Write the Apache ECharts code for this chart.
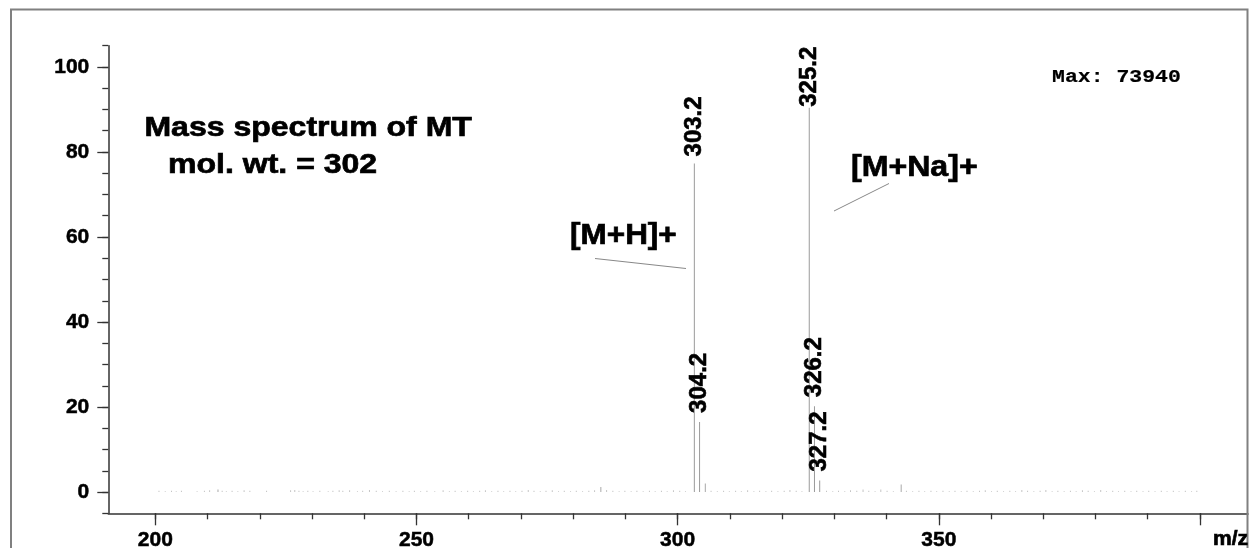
<!DOCTYPE html>
<html><head><meta charset="utf-8">
<script src="https://cdn.jsdelivr.net/npm/echarts@6/dist/echarts.min.js"></script>
<style>html,body{margin:0;padding:0;background:#fff}#c{width:1249px;height:548px}</style>
</head><body><div id="c"></div>
<script>
// ---- data ----
const xMinorTicks = [200,210,220,230,240,250,260,270,280,290,300,310,320,330,340,350,360,370,380,390,400];
const xMajorTicks = [200,250,300,350,400];
const xTickLabels = [200,250,300,350];
const yMajorTicks = [0,20,40,60,80,100];
const yTickLabels = [0,20,40,60,80,100];

// labelled peaks (m/z, relative intensity)
const peakMz  = [303.2, 304.2, 325.2, 326.2, 327.2];
const peakInt = [77.3, 16.5, 90.4, 20.2, 2.7];

// small unlabelled peaks
const minorMz  = [212.0, 285.3, 305.3, 342.8];
const minorInt = [0.6, 1.2, 2.0, 1.8];

// baseline noise [m/z, intensity]
const noisePeaks = [
 [200.7,0.3],[201.9,0.2],[203.1,0.3],[204.0,0.2],[205.0,0.3],[208.0,0.2],[209.4,0.3],[210.4,0.4],
 [212.8,0.3],[213.6,0.2],[214.7,0.3],[215.8,0.2],[217.0,0.4],[218.1,0.3],[221.3,0.3],[225.9,0.4],
 [226.7,0.5],[227.5,0.3],[228.3,0.2],[229.2,0.3],[230.2,0.2],[231.5,0.3],[233.1,0.2],[234.0,0.3],
 [235.2,0.4],[235.9,0.3],[237.2,0.4],[238.7,0.2],[239.7,0.3],[241.0,0.5],[242.3,0.3],[243.5,0.2],
 [244.8,0.3],[246.1,0.2],[247.4,0.3],[248.6,0.2],[249.6,0.3],[250.8,0.2],[252.0,0.3],[253.5,0.2],
 [255.1,0.4],[256.3,0.2],[257.4,0.3],[258.6,0.2],[259.8,0.3],[260.9,0.2],[262.1,0.3],[263.2,0.4],
 [264.4,0.2],[265.6,0.3],[266.7,0.2],[267.9,0.3],[269.0,0.2],[270.2,0.3],[271.4,0.5],[272.5,0.3],
 [273.7,0.2],[274.8,0.3],[276.0,0.4],[277.2,0.2],[278.3,0.3],[279.5,0.2],[280.6,0.3],[281.8,0.2],
 [283.0,0.3],[284.1,0.4],[286.4,0.5],[287.6,0.3],[288.8,0.2],[289.9,0.3],[291.1,0.2],[292.2,0.3],
 [293.4,0.2],[294.6,0.3],[295.7,0.2],[296.9,0.3],[298.0,0.2],[299.2,0.4],[300.4,0.3],[301.5,0.2],
 [306.4,0.3],[307.6,0.2],[308.8,0.3],[309.9,0.2],[311.1,0.3],[312.2,0.2],[313.4,0.4],[314.6,0.2],
 [315.7,0.3],[316.9,0.2],[318.0,0.3],[319.2,0.2],[320.4,0.3],[321.5,0.5],[322.7,0.3],[323.8,0.2],
 [328.5,0.3],[329.7,0.2],[330.8,0.3],[332.0,0.2],[333.1,0.4],[334.3,0.3],[335.5,0.6],[336.6,0.3],
 [337.8,0.2],[338.9,0.6],[340.1,0.3],[341.3,0.2],
 [343.8,0.3],[345.0,0.2],[346.2,0.3],[347.3,0.2],[348.5,0.3],[349.6,0.2],[350.8,0.3],[352.0,0.2],
 [353.1,0.3],[354.3,0.2],[355.4,0.3],[356.6,0.2],[357.8,0.3],[358.9,0.4],[360.1,0.2],[361.2,0.3],
 [362.4,0.2],[363.6,0.3],[364.7,0.2],[365.9,0.5],[367.0,0.3],[368.2,0.2],[369.4,0.3],[370.5,0.5],
 [371.7,0.2],[372.8,0.3],[374.0,0.2],[375.2,0.3],[376.3,0.2],[377.5,0.4],[378.6,0.3],[379.8,0.2],
 [381.0,0.5],[382.1,0.2],[383.3,0.3],[384.4,0.2],[385.6,0.3],[386.8,0.2],[387.9,0.3],[389.1,0.2],
 [390.2,0.3],[391.4,0.2],[392.6,0.3],[393.7,0.2],[394.9,0.3],[396.0,0.2],[397.2,0.3],[398.4,0.2],
 [399.4,0.3]
];

// ---- chart ----
const chart = echarts.init(document.getElementById('c'), null, {renderer:'canvas'});
const FONT = 'Liberation Sans, Arial, sans-serif';
const MONO = 'Liberation Mono, Courier New, monospace';
const labelGaps = [7, 9, 1, 9, 9];

const peakData = peakMz.map((m, i) => ({
  value: [m, peakInt[i]],
  label: {
    show: true, position: 'top', rotate: 90, align: 'left', verticalAlign: 'middle',
    distance: labelGaps[i],
    formatter: p => p.value[0].toFixed(1),
    fontFamily: FONT, fontWeight: 'bold', fontSize: 24, color: '#000',
    textBorderColor: '#000', textBorderWidth: 0.6
  }
}));
const minorData = minorMz.map((m, i) => [m, minorInt[i]]);

const axisCol = '#333';
const xBase = {type: 'value', min: 191, max: 409.2, position: 'bottom', splitLine: {show: false}};
const yBase = {type: 'value', min: -5, max: 105, position: 'left', splitLine: {show: false}};
const tickLabelStyle = {fontFamily: FONT, fontWeight: 'bold', fontSize: 21, color: '#000',
  textBorderColor: '#000', textBorderWidth: 0.5};

function txt(text, x, y, size, sx, family, lw) {
  return {type: 'text', z: 100, silent: true, x: x, y: y, scaleX: sx, scaleY: 1,
    style: {text: text, x: 0, y: 0, fontFamily: family || FONT, fontWeight: 'bold', fontSize: size,
      fill: '#000', stroke: '#000', lineWidth: lw == null ? 0.7 : lw, align: 'left', verticalAlign: 'middle'}};
}

chart.setOption({
  animation: false,
  backgroundColor: '#fff',
  grid: {left: 108.3, right: 1, top: 45.7, bottom: 34.7, containLabel: false, outerBoundsMode: 'none'},
  xAxis: [
    Object.assign({}, xBase, {
      axisLine: {show: true, onZero: false, lineStyle: {color: axisCol, width: 1.5}},
      axisTick: {show: true, length: 6, customValues: xMinorTicks, lineStyle: {color: axisCol, width: 1.3}},
      axisLabel: Object.assign({show: true, customValues: xTickLabels, margin: 16}, tickLabelStyle)
    }),
    Object.assign({}, xBase, {
      axisLine: {show: false, onZero: false},
      axisTick: {show: true, length: 12, customValues: xMajorTicks, lineStyle: {color: axisCol, width: 1.3}},
      axisLabel: {show: false}
    })
  ],
  yAxis: [
    Object.assign({}, yBase, {
      interval: 5,
      axisLine: {show: true, onZero: false, lineStyle: {color: axisCol, width: 1.5}},
      axisTick: {show: true, length: 6, lineStyle: {color: axisCol, width: 1.3}},
      axisLabel: Object.assign({show: true, customValues: yTickLabels, margin: 19}, tickLabelStyle)
    }),
    Object.assign({}, yBase, {
      axisLine: {show: false, onZero: false},
      axisTick: {show: true, length: 11, customValues: yMajorTicks, lineStyle: {color: axisCol, width: 1.3}},
      axisLabel: {show: false}
    })
  ],
  series: [
    {type: 'bar', name: 'noise', data: noisePeaks, barWidth: 1, barGap: '-100%',
     itemStyle: {color: '#c4c4c4'}, z: 2},
    {type: 'bar', name: 'minor', data: minorData, barWidth: 1, barGap: '-100%',
     itemStyle: {color: '#a8a8a8'}, z: 3},
    {type: 'bar', name: 'peaks', data: peakData, barWidth: 1, barGap: '-100%',
     itemStyle: {color: '#9a9a9a'}, z: 4}
  ],
  graphic: [
    {type: 'rect', z: 100, silent: true, shape: {x: 11, y: 9.5, width: 1236.5, height: 600},
     style: {fill: null, stroke: '#808080', lineWidth: 2}},
    txt('Mass spectrum of MT', 144.4, 128.5, 28, 1.144),
    txt('mol. wt. = 302', 168, 165.2, 28, 1.144),
    txt('Max: 73940', 1052, 76.8, 19, 1.13, MONO, 0.2),
    txt('[M+H]+', 570, 236, 30, 1.05),
    txt('[M+Na]+', 851, 167.7, 30, 1.07),
    txt('m/z', 1213, 539.5, 21, 1.0),
    {type: 'line', z: 100, silent: true, shape: {x1: 595, y1: 258.5, x2: 686, y2: 268.5}, style: {stroke: '#888', lineWidth: 1}},
    {type: 'line', z: 100, silent: true, shape: {x1: 889, y1: 183.5, x2: 834, y2: 211}, style: {stroke: '#888', lineWidth: 1}}
  ]
});
</script>
</body></html>
